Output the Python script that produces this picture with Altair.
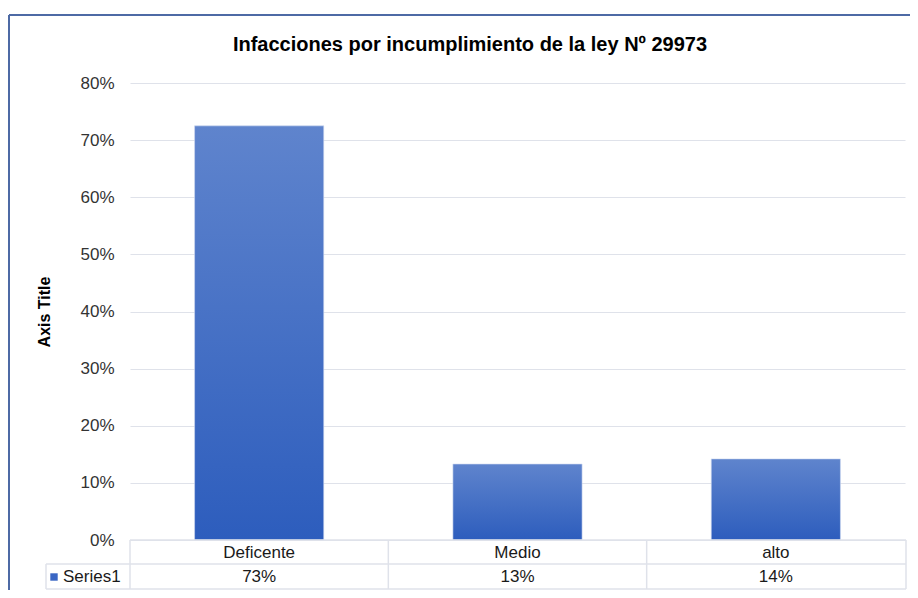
import altair as alt
import pandas as pd

title_text = "Infacciones por incumplimiento de la ley Nº 29973"
categories = ["Deficente", "Medio", "alto"]
values = [0.725, 0.133, 0.142]
table_labels = ["73%", "13%", "14%"]
series_name = "Series1"
y_ticks = [0, 0.1, 0.2, 0.3, 0.4, 0.5, 0.6, 0.7, 0.8]

df = pd.DataFrame({"cat": categories, "val": values, "lab": table_labels})

W, H = 775, 457
GRID = "#dfe2ea"
FONT = "Liberation Sans"
TXT = "#1a1a1a"
FS = 17

xs = alt.Scale(domain=categories, paddingInner=0, paddingOuter=0)
x_enc = alt.X("cat:N", scale=xs, axis=None, sort=categories)

bars = alt.Chart(df).mark_bar(
    width=alt.RelativeBandSize(0.5),
    color=alt.Gradient(
        gradient="linear",
        stops=[alt.GradientStop(color="#5f84cd", offset=0),
               alt.GradientStop(color="#2d5dbd", offset=1)],
        x1=0, x2=0, y1=0, y2=1),
    stroke="#d0daf0", strokeWidth=0.6,
).encode(
    x=x_enc,
    y=alt.Y("val:Q", scale=alt.Scale(domain=[0, 0.8], nice=False),
            axis=alt.Axis(values=y_ticks, format=".0%", title="Axis Title",
                          domain=False, ticks=False, labelPadding=16,
                          labelFontSize=FS, labelColor="#333333", labelFont=FONT,
                          titleFontSize=16, titleFont=FONT, titleFontWeight="bold",
                          titleColor="#000000", titlePadding=27,
                          gridColor=GRID, gridWidth=1.2)),
)

cat_text = alt.Chart(df).mark_text(fontSize=FS, font=FONT, color=TXT, baseline="middle").encode(
    x=x_enc, y=alt.value(H + 13), text="cat:N")
val_text = alt.Chart(df).mark_text(fontSize=FS, font=FONT, color=TXT, baseline="middle").encode(
    x=x_enc, y=alt.value(H + 37), text="lab:N")

vlines = alt.Chart(df).mark_rule(color=GRID, strokeWidth=1.5).encode(
    x=alt.X("cat:N", scale=xs, axis=None, sort=categories, bandPosition=0),
    y=alt.value(H), y2=alt.value(H + 49))

lbl = pd.DataFrame({"name": [series_name], "title": [title_text]})
extra = alt.Chart(lbl)
right_line = extra.mark_rule(color=GRID, strokeWidth=1.5).encode(
    x=alt.value(W + 1), y=alt.value(H), y2=alt.value(H + 49))
left_line = extra.mark_rule(color=GRID, strokeWidth=1.5).encode(
    x=alt.value(-84), y=alt.value(H + 24), y2=alt.value(H + 49))
h1 = extra.mark_rule(color=GRID, strokeWidth=1.5).encode(
    x=alt.value(0), x2=alt.value(W + 1), y=alt.value(H))
h2 = extra.mark_rule(color=GRID, strokeWidth=1.5).encode(
    x=alt.value(-84), x2=alt.value(W + 1), y=alt.value(H + 24))
h3 = extra.mark_rule(color=GRID, strokeWidth=1.5).encode(
    x=alt.value(-84), x2=alt.value(W + 1), y=alt.value(H + 49))
series_text = extra.mark_text(fontSize=FS, font=FONT, color=TXT, align="left", baseline="middle").encode(
    x=alt.value(-67), y=alt.value(H + 37), text="name:N")
series_sq = extra.mark_square(size=55, color="#3a66c4", opacity=1).encode(
    x=alt.value(-76), y=alt.value(H + 37))
title_mark = extra.mark_text(fontSize=20, font=FONT, fontWeight="bold", color="#000000",
                             align="center", baseline="middle").encode(
    x=alt.value(340), y=alt.value(-38), text="title:N")

border_top = extra.mark_rule(color="#4d6aa5", strokeWidth=2).encode(
    x=alt.value(-121), x2=alt.value(W + 20), y=alt.value(-68))
border_left = extra.mark_rule(color="#4d6aa5", strokeWidth=2).encode(
    x=alt.value(-121), y=alt.value(-68), y2=alt.value(H + 70))

chart = alt.layer(
    vlines, right_line, left_line, h2, h3, bars, h1, cat_text, val_text,
    series_text, series_sq, title_mark, border_top, border_left
).properties(
    width=W, height=H,
    autosize=alt.AutoSizeParams(type="none"),
    padding={"left": 122, "top": 75, "right": 5, "bottom": 50},
).configure_view(stroke=None)

chart.save("out.html", embed_options={"renderer": "svg", "actions": False})
